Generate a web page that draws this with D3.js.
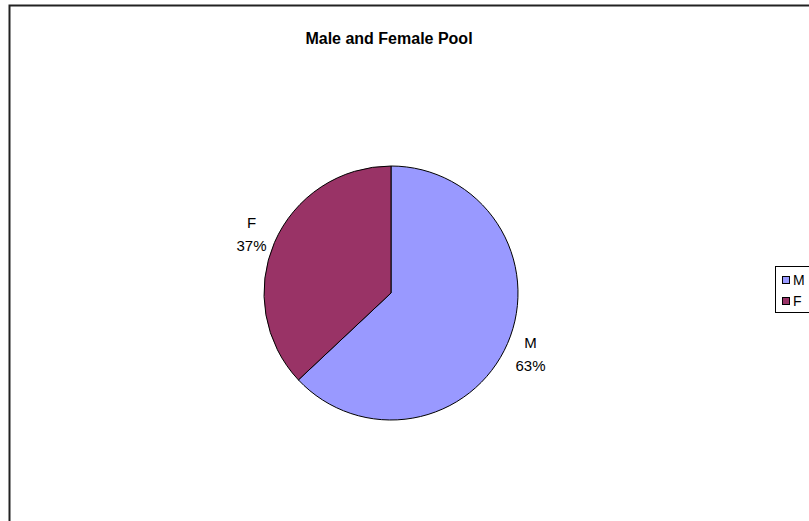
<!DOCTYPE html>
<html>
<head>
<meta charset="utf-8">
<script src="https://cdn.jsdelivr.net/npm/d3@7"></script>
<style>
  html, body { margin: 0; padding: 0; background: #fff; }
  svg { display: block; }
  text { font-family: "Liberation Sans", Arial, sans-serif; fill: #000; }
</style>
</head>
<body>
<svg id="chart" width="809" height="521"></svg>
<script>
// Pool composition by sex
const categories = ["M", "F"];
const values = [63, 37];
const colors = ["#9999FF", "#993366"];
const title = "Male and Female Pool";

const svg = d3.select("#chart");
const W = 809, H = 521;

// chart area frame (runs off the right and bottom edges)
svg.append("rect")
  .attr("x", 9.5).attr("y", 5.5)
  .attr("width", 820).attr("height", 540)
  .attr("fill", "#fff")
  .attr("stroke", "#222")
  .attr("stroke-width", 2);

svg.append("text")
  .attr("x", 389).attr("y", 44)
  .attr("text-anchor", "middle")
  .attr("font-size", 16)
  .attr("font-weight", "bold")
  .text(title);

const cx = 391, cy = 293, r = 127;
const data = categories.map((c, i) => ({ cat: c, value: values[i], color: colors[i] }));
const total = d3.sum(values);

const pie = d3.pie().sort(null).value(d => d.value).startAngle(0).endAngle(2 * Math.PI);
const arc = d3.arc().innerRadius(0).outerRadius(r);
const labelArc = d3.arc().innerRadius(152 * 2 - 0).outerRadius(0);

const g = svg.append("g").attr("transform", `translate(${cx},${cy})`);
const arcs = pie(data);

g.selectAll("path.slice")
  .data(arcs)
  .join("path")
  .attr("class", "slice")
  .attr("d", arc)
  .attr("fill", d => d.data.color)
  .attr("stroke", "#000")
  .attr("stroke-width", 1);

// outside labels: category on first line, percentage on second
const lbl = g.selectAll("g.lbl")
  .data(arcs)
  .join("g")
  .attr("class", "lbl")
  .attr("transform", d => {
    const [x, y] = labelArc.centroid(d);
    return `translate(${x},${y})`;
  });

lbl.append("text")
  .attr("text-anchor", "middle")
  .attr("y", -5)
  .attr("font-size", 15)
  .text(d => d.data.cat);

lbl.append("text")
  .attr("text-anchor", "middle")
  .attr("y", 18)
  .attr("font-size", 15)
  .text(d => Math.round(d.data.value / total * 100) + "%");

// legend
const lg = svg.append("g").attr("transform", "translate(775,266)");
lg.append("rect")
  .attr("x", 0.5).attr("y", 0.5)
  .attr("width", 60).attr("height", 46)
  .attr("fill", "#fff")
  .attr("stroke", "#000")
  .attr("stroke-width", 1);

const items = lg.selectAll("g.item")
  .data(data)
  .join("g")
  .attr("class", "item")
  .attr("transform", (d, i) => `translate(7,${14 + i * 21})`);

items.append("rect")
  .attr("x", 0.5).attr("y", -3.5)
  .attr("width", 7).attr("height", 7)
  .attr("fill", d => d.color)
  .attr("stroke", "#000")
  .attr("stroke-width", 1);

items.append("text")
  .attr("x", 11).attr("y", 5)
  .attr("font-size", 14)
  .text(d => d.cat);
</script>
</body>
</html>
